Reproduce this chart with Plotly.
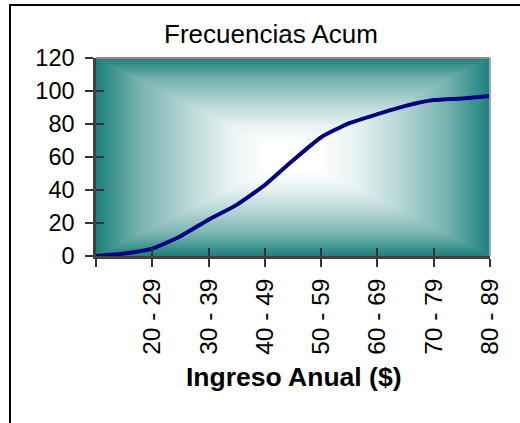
import numpy as np
import plotly.graph_objects as go

# Cumulative frequency (%) at each class mark, left to right
acumulado = [0, 1.5, 4.5, 12, 22, 31, 43, 58, 72, 80.5, 86, 91, 94.5, 95.5, 97]
# Income class labels shown on every second tick (first tick unlabeled)
etiquetas = ["", "20 - 29", "30 - 39", "40 - 49", "50 - 59", "60 - 69", "70 - 79", "80 - 89"]

n = len(acumulado)
posiciones = list(range(n))
marcas = posiciones[::2]
xmax = n - 1
ymax = 120

TEAL = "rgb(28,128,124)"
FONT = "Liberation Sans, Arial, sans-serif"

# Rectangular "from centre" background gradient: white in the middle, teal at the edges
nx, ny = 280, 140
xe = np.linspace(0, xmax, nx + 1)
ye = np.linspace(0, ymax, ny + 1)
xc = (xe[:-1] + xe[1:]) / 2
yc = (ye[:-1] + ye[1:]) / 2
U, V = np.meshgrid((xc - xmax / 2) / (xmax / 2), (yc - ymax / 2) / (ymax / 2))
z = 1 - np.maximum(np.abs(U), np.abs(V))

fondo = go.Heatmap(
    x=xe, y=ye, z=z, zmin=0, zmax=1, zsmooth=False, showscale=False, hoverinfo="skip",
    colorscale=[
        [0.0, TEAL],
        [0.22, "rgb(119,179,176)"],
        [0.48, "rgb(187,217,216)"],
        [0.68, "rgb(232,242,242)"],
        [0.87, "rgb(255,255,255)"],
        [1.0, "rgb(255,255,255)"],
    ],
)

linea = go.Scatter(
    x=posiciones, y=acumulado, mode="lines",
    line=dict(color="#000080", width=4, shape="spline", smoothing=0.5),
    hoverinfo="x+y",
)

# empty trace so the inner-tick overlay axes are created
marco = go.Scatter(x=[None], y=[None], xaxis="x2", yaxis="y2", showlegend=False, hoverinfo="skip")

fig = go.Figure([fondo, linea, marco])

fig.update_layout(
    width=520, height=423,
    margin=dict(l=96, r=30, t=58, b=167),
    paper_bgcolor="white", plot_bgcolor="white",
    showlegend=False,
    font=dict(family=FONT, color="black"),
    title=dict(text="Frecuencias Acum", x=271 / 520, xanchor="center",
               y=1 - 34 / 423, yanchor="middle", yref="container",
               font=dict(size=26, family=FONT, color="black")),
    xaxis=dict(range=[0, xmax], tickmode="array", tickvals=marcas, ticktext=etiquetas,
               tickangle=-90, ticks="outside", ticklen=8, tickwidth=1.5, tickcolor="#333",
               showline=True, linecolor="#404040", linewidth=2.5,
               showgrid=False, zeroline=False, tickfont=dict(size=24.5),
               ticklabelstandoff=2),
    yaxis=dict(range=[0, ymax], tickmode="linear", tick0=0, dtick=20,
               ticks="outside", ticklen=8, tickwidth=1.5, tickcolor="#333",
               showline=True, linecolor="#404040", linewidth=2.5,
               showgrid=False, zeroline=False, tickfont=dict(size=23.5),
               ticklabelstandoff=6),
    xaxis2=dict(overlaying="x", anchor="y2", range=[0, xmax], tickmode="array",
                tickvals=marcas[1:], ticks="inside", ticklen=8, tickwidth=1.5,
                tickcolor="#333", showticklabels=False, showline=False,
                showgrid=False, zeroline=False),
    yaxis2=dict(overlaying="y", anchor="x2", side="left", range=[0, ymax],
                tickmode="linear", tick0=20, dtick=20, ticks="inside", ticklen=8,
                tickwidth=1.5, tickcolor="#333", showticklabels=False, showline=False,
                showgrid=False, zeroline=False),
    annotations=[dict(text="<b>Ingreso Anual ($)</b>", xref="paper", yref="paper",
                      x=0.5, y=(256 - 377) / 198, xanchor="center", yanchor="middle",
                      showarrow=False, font=dict(size=26.5, family=FONT, color="black"))],
    shapes=[
        # grey frame on the top and right of the plotting area
        dict(type="line", xref="paper", yref="paper", x0=0, x1=1, y0=1, y1=1,
             line=dict(color="#8c8c8c", width=2)),
        dict(type="line", xref="paper", yref="paper", x0=1, x1=1, y0=0, y1=1,
             line=dict(color="#a8a8a8", width=2)),
        # chart-area border
        dict(type="rect", xref="paper", yref="paper",
             x0=(10 - 96) / 394, x1=(530 - 96) / 394,
             y0=(256 - 440) / 198, y1=(256 - 5) / 198,
             line=dict(color="black", width=2), layer="above"),
    ],
)

fig.write_html("out.html")
